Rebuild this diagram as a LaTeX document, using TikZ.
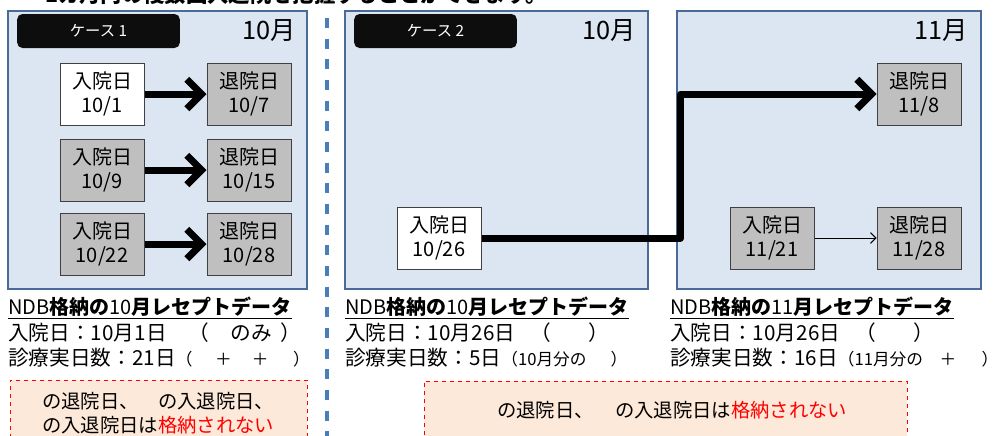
\documentclass[tikz,border=0pt]{standalone}
\usepackage{fontspec}
\setmainfont{Noto Sans CJK JP}
\usetikzlibrary{arrows.meta}
\definecolor{panelfill}{HTML}{DCE6F2}
\definecolor{panelline}{HTML}{4A6B98}
\definecolor{boxgray}{HTML}{BFBFBF}
\definecolor{notefill}{HTML}{FDE9D9}
\definecolor{notered}{HTML}{FF0000}
\definecolor{sepblue}{HTML}{4A7EBB}
\tikzset{
  panel/.style={fill=panelfill, draw=panelline, line width=1.5pt, inner sep=0},
  casetag/.style={fill=black!95, rounded corners=4pt, text=white, inner sep=0,
    font=\fontsize{11.5}{13}\selectfont, minimum width=122pt, minimum height=25.5pt},
  datebox/.style={draw=black!75, line width=0.75pt, minimum width=63pt, minimum height=46.5pt,
    inner sep=0, align=center, font=\fontsize{15}{18}\selectfont},
  inbox/.style={datebox, fill=white},
  graybox/.style={datebox, fill=boxgray},
  month/.style={anchor=east, inner sep=0, font=\fontsize{19}{22}\selectfont},
  infotext/.style={anchor=west, inner sep=0, font=\fontsize{15.5}{18}\selectfont},
  titletext/.style={anchor=west, inner sep=0, font=\fontsize{15}{18}\selectfont},
  note/.style={fill=notefill, draw=notered, dashed, line width=0.6pt, inner sep=0, minimum height=48pt},
  notetext/.style={anchor=west, inner sep=0, font=\fontsize{14.5}{16}\selectfont},
  bigarrow/.style={line width=5.25pt, line join=round, -{Straight Barb[length=11pt,width=22pt]}},
  thinarrow/.style={line width=0.75pt, -{Straight Barb[length=4pt,width=8pt]}},
  sepline/.style={draw=sepblue, line width=2.5pt, dash pattern=on 7.5pt off 8pt}
}
\newcommand{\smallpar}[1]{{\fontsize{12.5}{14}\selectfont #1}}
\begin{document}
\begin{tikzpicture}[x=0.75pt,y=-0.75pt]
\useasboundingbox (0,0) rectangle (1008,436);
% clipped heading
\node[anchor=west, inner sep=0, font=\bfseries\fontsize{16}{18}\selectfont] (heading) at (45,-6) {1カ月内の複数回入退院を把握することができます。};
% panels
\node[panel, minimum width=224.25pt, minimum height=208.5pt] (p1) at (157.5,150) {};
\node[panel, minimum width=227.25pt, minimum height=208.5pt] (p2) at (496.5,150) {};
\node[panel, minimum width=228pt, minimum height=208.5pt] (p3) at (829,150) {};
% separator
\coordinate (sepTop) at (327,18);
\coordinate (sepBot) at (327,436);
\draw[sepline] (sepTop) -- (sepBot);
% case tags and months
\node[casetag] (tag1) at (98.5,31) {ケース 1};
\node[casetag] (tag2) at (435.5,31) {ケース 2};
\node[month] (m1) at (296,31) {10月};
\node[month] (m2) at (636,31) {10月};
\node[month] (m3) at (968,31) {11月};
% case 1 boxes
\node[inbox] (a1) at (102,94) {入院日\\10/1};
\node[graybox] (d1) at (249,94) {退院日\\10/7};
\node[graybox] (a2) at (102,170) {入院日\\10/9};
\node[graybox] (d2) at (249,170) {退院日\\10/15};
\node[graybox] (a3) at (102,244) {入院日\\10/22};
\node[graybox] (d3) at (249,244) {退院日\\10/28};
\draw[bigarrow] (a1.east) -- (d1.west);
\draw[bigarrow] (a2.east) -- (d2.west);
\draw[bigarrow] (a3.east) -- (d3.west);
% case 2 boxes
\node[inbox] (a26) at (439,238) {入院日\\10/26};
\node[graybox] (d118) at (919,94) {退院日\\11/8};
\node[graybox] (a1121) at (772,238) {入院日\\11/21};
\node[graybox] (d1128) at (919,238) {退院日\\11/28};
\draw[bigarrow] (a26.east) -- ++(199,0) |- (d118.west);
\draw[thinarrow] (a1121.east) -- (d1128.west);
% texts under panel 1
\node[titletext] (t1a) at (8,308) {\underline{NDB\textbf{格納の}10\textbf{月レセプトデータ}}};
\node[infotext] (t1b) at (8,333) {入院日：10月1日\hspace{1.05em}（\hspace{1.05em}のみ\hspace{0.4em}）};
\node[infotext] (t1c) at (8,358) {診療実日数：21日\smallpar{（\hspace{17pt}＋\hspace{15pt}＋\hspace{18.5pt}）}};
% texts under panel 2
\node[titletext] (t2a) at (345,308) {\underline{NDB\textbf{格納の}10\textbf{月レセプトデータ}}};
\node[infotext] (t2b) at (345,333) {入院日：10月26日\hspace{0.75em}（\hspace{1.8em}）};
\node[infotext] (t2c) at (345,358) {診療実日数：5日\smallpar{（10月分の\hspace{18pt}）}};
% texts under panel 3
\node[titletext] (t3a) at (670,308) {\underline{NDB\textbf{格納の}11\textbf{月レセプトデータ}}};
\node[infotext] (t3b) at (670,333) {入院日：10月26日\hspace{0.75em}（\hspace{1.8em}）};
\node[infotext] (t3c) at (670,358) {診療実日数：16日\smallpar{（11月分の\hspace{12.5pt}＋\hspace{19pt}）}};
% notes
\node[note, minimum width=222.75pt] (n1) at (158.5,412) {};
\node[notetext] (n1a) at (42,401) {の退院日、　の入退院日、};
\node[notetext] (n1b) at (42,425) {の入退院日は\textcolor{notered}{格納されない}};
\node[note, minimum width=362.25pt] (n2) at (665.5,413) {};
\node[notetext] (n2a) at (497,410) {の退院日、\hspace{1.1em}の入退院日は\textcolor{notered}{格納されない}};
\end{tikzpicture}
\end{document}
